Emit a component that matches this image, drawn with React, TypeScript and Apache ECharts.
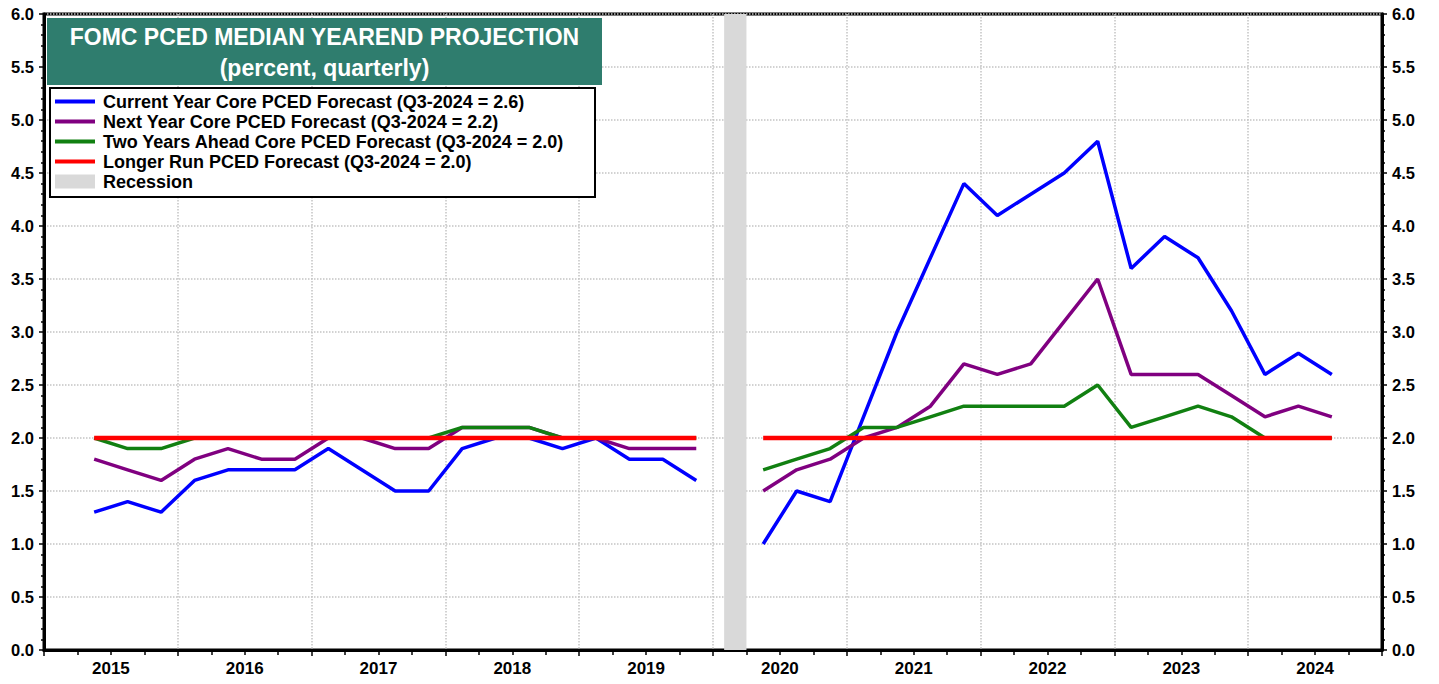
import React, { useEffect, useRef } from "react";
import * as echarts from "echarts";

// Quarterly FOMC SEP dates (quarter of the meeting)
const quarters: string[] = [
  "2015Q2", "2015Q3", "2015Q4",
  "2016Q1", "2016Q2", "2016Q3", "2016Q4",
  "2017Q1", "2017Q2", "2017Q3", "2017Q4",
  "2018Q1", "2018Q2", "2018Q3", "2018Q4",
  "2019Q1", "2019Q2", "2019Q3", "2019Q4",
  "2020Q1", "2020Q2", "2020Q3", "2020Q4",
  "2021Q1", "2021Q2", "2021Q3", "2021Q4",
  "2022Q1", "2022Q2", "2022Q3", "2022Q4",
  "2023Q1", "2023Q2", "2023Q3", "2023Q4",
  "2024Q1", "2024Q2", "2024Q3",
];

const currentYear: (number | null)[] = [
  1.3, 1.4, 1.3,
  1.6, 1.7, 1.7, 1.7,
  1.9, 1.7, 1.5, 1.5,
  1.9, 2.0, 2.0, 1.9,
  2.0, 1.8, 1.8, 1.6,
  null, 1.0, 1.5, 1.4,
  2.2, 3.0, 3.7, 4.4,
  4.1, 4.3, 4.5, 4.8,
  3.6, 3.9, 3.7, 3.2,
  2.6, 2.8, 2.6,
];

const nextYear: (number | null)[] = [
  1.8, 1.7, 1.6,
  1.8, 1.9, 1.8, 1.8,
  2.0, 2.0, 1.9, 1.9,
  2.1, 2.1, 2.1, 2.0,
  2.0, 1.9, 1.9, 1.9,
  null, 1.5, 1.7, 1.8,
  2.0, 2.1, 2.3, 2.7,
  2.6, 2.7, 3.1, 3.5,
  2.6, 2.6, 2.6, 2.4,
  2.2, 2.3, 2.2,
];

const twoYearsAhead: (number | null)[] = [
  2.0, 1.9, 1.9,
  2.0, 2.0, 2.0, 2.0,
  2.0, 2.0, 2.0, 2.0,
  2.1, 2.1, 2.1, 2.0,
  2.0, 2.0, 2.0, 2.0,
  null, 1.7, 1.8, 1.9,
  2.1, 2.1, 2.2, 2.3,
  2.3, 2.3, 2.3, 2.5,
  2.1, 2.2, 2.3, 2.2,
  2.0, 2.0, 2.0,
];

const longerRun: (number | null)[] = [
  2.0, 2.0, 2.0,
  2.0, 2.0, 2.0, 2.0,
  2.0, 2.0, 2.0, 2.0,
  2.0, 2.0, 2.0, 2.0,
  2.0, 2.0, 2.0, 2.0,
  null, 2.0, 2.0, 2.0,
  2.0, 2.0, 2.0, 2.0,
  2.0, 2.0, 2.0, 2.0,
  2.0, 2.0, 2.0, 2.0,
  2.0, 2.0, 2.0,
];

const yearLabels: string[] = ["2015", "2016", "2017", "2018", "2019", "2020", "2021", "2022", "2023", "2024"];
const recession: string[] = ["2020-02", "2020-04"];

const titleLines: string[] = ["FOMC PCED MEDIAN YEAREND PROJECTION", "(percent, quarterly)"];
const seriesNames: string[] = [
  "Current Year Core PCED Forecast (Q3-2024 = 2.6)",
  "Next Year Core PCED Forecast (Q3-2024 = 2.2)",
  "Two Years Ahead Core PCED Forecast (Q3-2024 = 2.0)",
  "Longer Run PCED Forecast (Q3-2024 = 2.0)",
];
const recessionName = "Recession";

const colors = ["#0000ff", "#800080", "#118011", "#ff0000"];
const widths = [3.5, 3.5, 3.5, 4.5];
const FONT = "Arial, 'Liberation Sans', Helvetica, sans-serif";

function quarterToX(q: string): number {
  const y = parseInt(q.slice(0, 4), 10);
  const n = parseInt(q.slice(5), 10);
  return y + (n - 0.5) / 4;
}
function monthToX(m: string): number {
  const y = parseInt(m.slice(0, 4), 10);
  const mo = parseInt(m.slice(5), 10);
  return y + (mo - 1) / 12;
}

export default function App() {
  const ref = useRef<HTMLDivElement>(null);

  useEffect(() => {
    if (!ref.current) return;
    const chart = echarts.init(ref.current, undefined, { renderer: "svg" });
    const allSeries = [currentYear, nextYear, twoYearsAhead, longerRun];

    const tickStyle = { color: "#000", width: 1.5 };
    const gridLine = { color: "#c4c4c4", type: "dotted" as const, width: 1.5 };

    const series: any[] = allSeries.map((vals, i) => ({
      name: seriesNames[i],
      type: "line",
      data: quarters.map((q, k) => [quarterToX(q), vals[k]]),
      showSymbol: false,
      connectNulls: false,
      lineStyle: { color: colors[i], width: widths[i] },
      itemStyle: { color: colors[i] },
      z: 3 + i,
      ...(i === 0
        ? {
            markArea: {
              silent: true,
              itemStyle: { color: "#d9d9d9" },
              data: [[{ xAxis: monthToX(recession[0]) }, { xAxis: monthToX(recession[1]) }]],
            },
          }
        : {}),
    }));

    const legendTop = 88;
    const rowH = 20;
    const graphics: any[] = [
      {
        type: "rect",
        z: 100,
        shape: { x: 47, y: 18, width: 555, height: 67 },
        style: { fill: "#2f7d6e" },
      },
      {
        type: "text",
        z: 101,
        x: 324.5,
        y: 37,
        style: {
          text: titleLines[0],
          fill: "#fff",
          font: `bold 23px ${FONT}`,
          align: "center",
          verticalAlign: "middle",
        },
      },
      {
        type: "text",
        z: 101,
        x: 324.5,
        y: 68,
        style: {
          text: titleLines[1],
          fill: "#fff",
          font: `bold 23px ${FONT}`,
          align: "center",
          verticalAlign: "middle",
        },
      },
      {
        type: "rect",
        z: 100,
        shape: { x: 50, y: legendTop, width: 545, height: 109 },
        style: { fill: "#fff", stroke: "#000", lineWidth: 2 },
      },
    ];
    seriesNames.forEach((name, i) => {
      const cy = legendTop + 13.5 + i * rowH;
      graphics.push({
        type: "line",
        z: 101,
        shape: { x1: 55, y1: cy, x2: 95, y2: cy },
        style: { stroke: colors[i], lineWidth: 4 },
      });
      graphics.push({
        type: "text",
        z: 101,
        x: 103,
        y: cy,
        style: { text: name, fill: "#000", font: `bold 18px ${FONT}`, verticalAlign: "middle" },
      });
    });
    {
      const cy = legendTop + 13.5 + 4 * rowH;
      graphics.push({
        type: "rect",
        z: 101,
        shape: { x: 55, y: cy - 7, width: 40, height: 14 },
        style: { fill: "#d9d9d9" },
      });
      graphics.push({
        type: "text",
        z: 101,
        x: 103,
        y: cy,
        style: { text: recessionName, fill: "#000", font: `bold 18px ${FONT}`, verticalAlign: "middle" },
      });
    }

    const yAxisBase = (pos: "left" | "right", split: boolean) => ({
      type: "value",
      position: pos,
      min: 0,
      max: 6,
      interval: 0.5,
      axisLine: { show: true, onZero: false, lineStyle: { color: "#000", width: 3 } },
      axisTick: { show: true, length: 5, lineStyle: tickStyle },
      minorTick: { show: true, splitNumber: 5, length: 3, lineStyle: tickStyle },
      axisLabel: {
        formatter: (v: number) => v.toFixed(1),
        fontWeight: "bold",
        fontSize: 16.5,
        fontFamily: FONT,
        color: "#000",
        margin: 10,
      },
      splitLine: { show: split, lineStyle: gridLine },
      minorSplitLine: { show: false },
    });

    chart.setOption({
      animation: false,
      backgroundColor: "#fff",
      grid: {
        left: 44,
        right: 57,
        top: 14,
        bottom: 34,
        show: true,
        borderColor: "#000",
        borderWidth: 3,
        backgroundColor: "transparent",
      },
      xAxis: [
        {
          type: "value",
          position: "bottom",
          min: 2015,
          max: 2025,
          interval: 1,
          axisLine: { show: true, onZero: false, lineStyle: { color: "#000", width: 3 } },
          axisTick: { show: true, length: 6, lineStyle: tickStyle },
          minorTick: { show: true, splitNumber: 4, length: 5, lineStyle: tickStyle },
          axisLabel: { show: false },
          splitLine: { show: true, lineStyle: gridLine },
          minorSplitLine: { show: false },
        },
        {
          type: "category",
          position: "bottom",
          data: yearLabels,
          boundaryGap: true,
          axisLine: { show: false },
          axisTick: { show: false },
          splitLine: { show: false },
          axisLabel: {
            interval: 0,
            fontWeight: "bold",
            fontSize: 17,
            fontFamily: FONT,
            color: "#000",
            margin: 10,
          },
        },
      ],
      yAxis: [yAxisBase("left", true), yAxisBase("right", false)],
      series,
      graphic: graphics,
    });

    return () => chart.dispose();
  }, []);

  return (
    <div
      ref={ref}
      style={{ position: "absolute", left: 0, top: 0, width: 1439, height: 684 }}
    />
  );
}
